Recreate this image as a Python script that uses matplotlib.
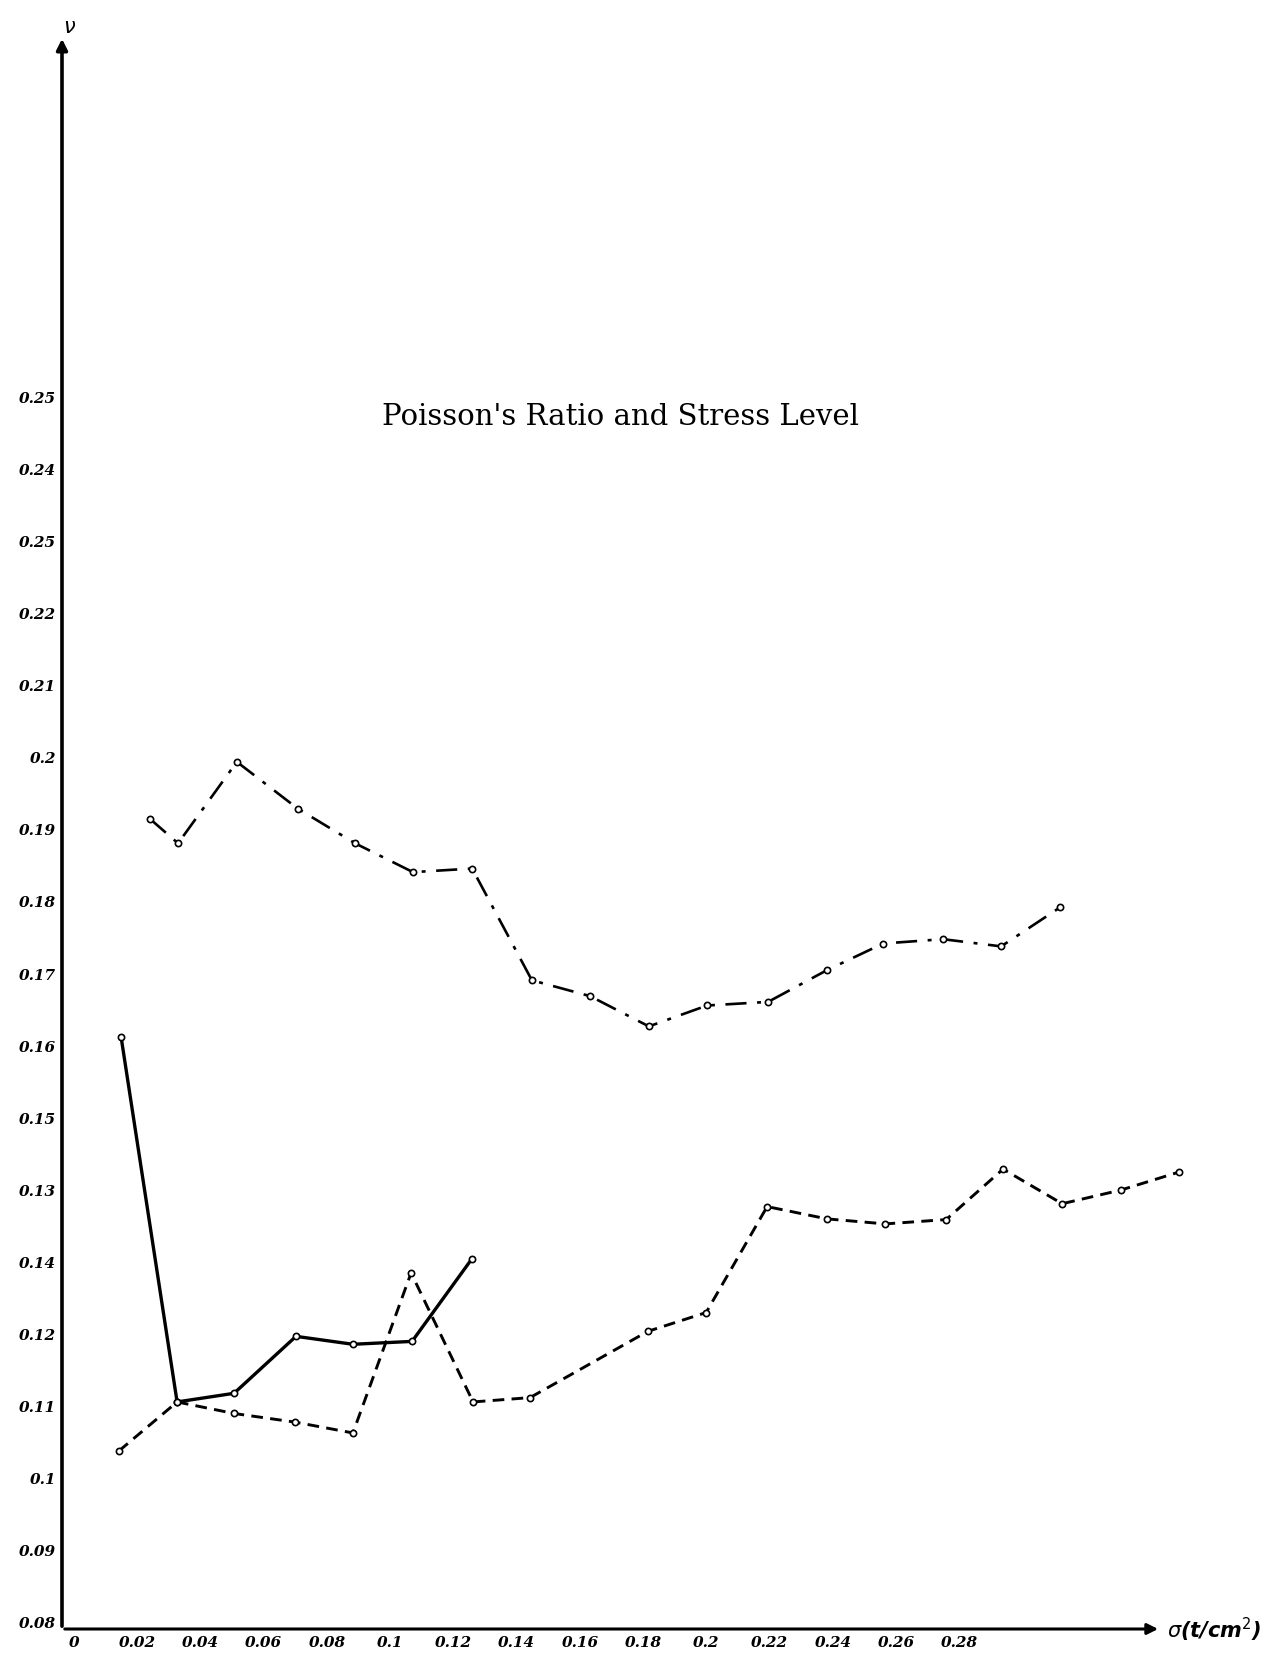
import matplotlib
matplotlib.use('Agg')
import matplotlib.pyplot as plt

# stress sigma (t/cm^2) and poisson's ratio nu
x_dashdot = [0.0240, 0.0329, 0.0515, 0.0708, 0.0889, 0.1072, 0.1259, 0.1448, 0.1632,
             0.1818, 0.2002, 0.2195, 0.2381, 0.2559, 0.2748, 0.2932, 0.3118]
y_dashdot = [0.1914, 0.1880, 0.1993, 0.1928, 0.1880, 0.1840, 0.1845, 0.1690, 0.1668,
             0.1626, 0.1655, 0.1660, 0.1704, 0.1741, 0.1747, 0.1737, 0.1791]

x_solid = [0.0149, 0.0326, 0.0506, 0.0702, 0.0882, 0.1069, 0.1259]
y_solid = [0.1611, 0.1105, 0.1117, 0.1196, 0.1185, 0.1189, 0.1304]

x_dashed = [0.0142, 0.0326, 0.0506, 0.0699, 0.0882, 0.1066, 0.1262, 0.1442, 0.1815,
            0.1999, 0.2192, 0.2381, 0.2565, 0.2758, 0.2938, 0.3125, 0.3311, 0.3495]
y_dashed = [0.1037, 0.1105, 0.1089, 0.1077, 0.1062, 0.1284, 0.1105, 0.1111, 0.1203,
            0.1229, 0.1376, 0.1359, 0.1352, 0.1358, 0.1428, 0.1380, 0.1399, 0.1424]

x_ticks = [0, 0.02, 0.04, 0.06, 0.08, 0.1, 0.12, 0.14, 0.16, 0.18, 0.2, 0.22, 0.24, 0.26, 0.28]
x_tick_labels = ['0', '0.02', '0.04', '0.06', '0.08', '0.1', '0.12', '0.14', '0.16',
                 '0.18', '0.2', '0.22', '0.24', '0.26', '0.28']
y_ticks = [0.08, 0.09, 0.10, 0.11, 0.12, 0.13, 0.14, 0.15, 0.16, 0.17, 0.18, 0.19,
           0.20, 0.21, 0.22, 0.23, 0.24, 0.25]
y_tick_labels = ['0.08', '0.09', '0.1', '0.11', '0.12', '0.14', '0.13', '0.15', '0.16',
                 '0.17', '0.18', '0.19', '0.2', '0.21', '0.22', '0.25', '0.24', '0.25']

W, H = 1283, 1656
fig = plt.figure(figsize=(W / 100, H / 100), dpi=100)
left, right, bottom, top = 62, 1250, 1630, 37
ax = fig.add_axes([left / W, (H - bottom) / H, (right - left) / W, (bottom - top) / H])
ax.set_xlim(-0.0038, 0.3719)
ax.set_ylim(0.0790, 0.30)

mk = dict(marker='o', markersize=4.5, markerfacecolor='white', markeredgecolor='black',
          markeredgewidth=1.2, color='black')
ax.plot(x_dashdot, y_dashdot, linestyle=(0, (8, 4, 1.5, 4)), lw=1.9, **mk)
ax.plot(x_dashed, y_dashed, linestyle=(0, (4, 2.5)), lw=2.1, **mk)
ax.plot(x_solid, y_solid, linestyle='-', lw=2.4, **mk)

for s in ax.spines.values():
    s.set_visible(False)

# axes drawn as arrows
ax.annotate('', xy=(0.925, 0), xytext=(0, 0), xycoords='axes fraction',
            arrowprops=dict(arrowstyle='-|>', lw=2.2, color='black', mutation_scale=16))
ax.annotate('', xy=(0, 1), xytext=(0, 0), xycoords='axes fraction',
            arrowprops=dict(arrowstyle='-|>', lw=2.6, color='black', mutation_scale=16))

tick_font = dict(family='DejaVu Serif', weight='bold', style='italic', size=11)
ax.set_xticks(x_ticks)
ax.set_xticklabels(x_tick_labels, **tick_font)
ax.set_yticks(y_ticks)
ax.set_yticklabels(y_tick_labels, **tick_font)
ax.tick_params(length=0, pad=4)

ax.text(0.93, 0, r'$\sigma$(t/cm$^2$)', transform=ax.transAxes, ha='left', va='center',
        fontsize=15, style='italic', weight='bold', clip_on=False)
ax.text(0.006, 1.0, r'$\nu$', transform=ax.transAxes, ha='center', va='bottom',
        fontsize=15, clip_on=False)

fig.text(621 / W, 1 - 417 / H, "Poisson's Ratio and Stress Level", ha='center', va='center',
         family='DejaVu Serif', fontsize=21)

fig.savefig('out.png', dpi=100, facecolor='white')
